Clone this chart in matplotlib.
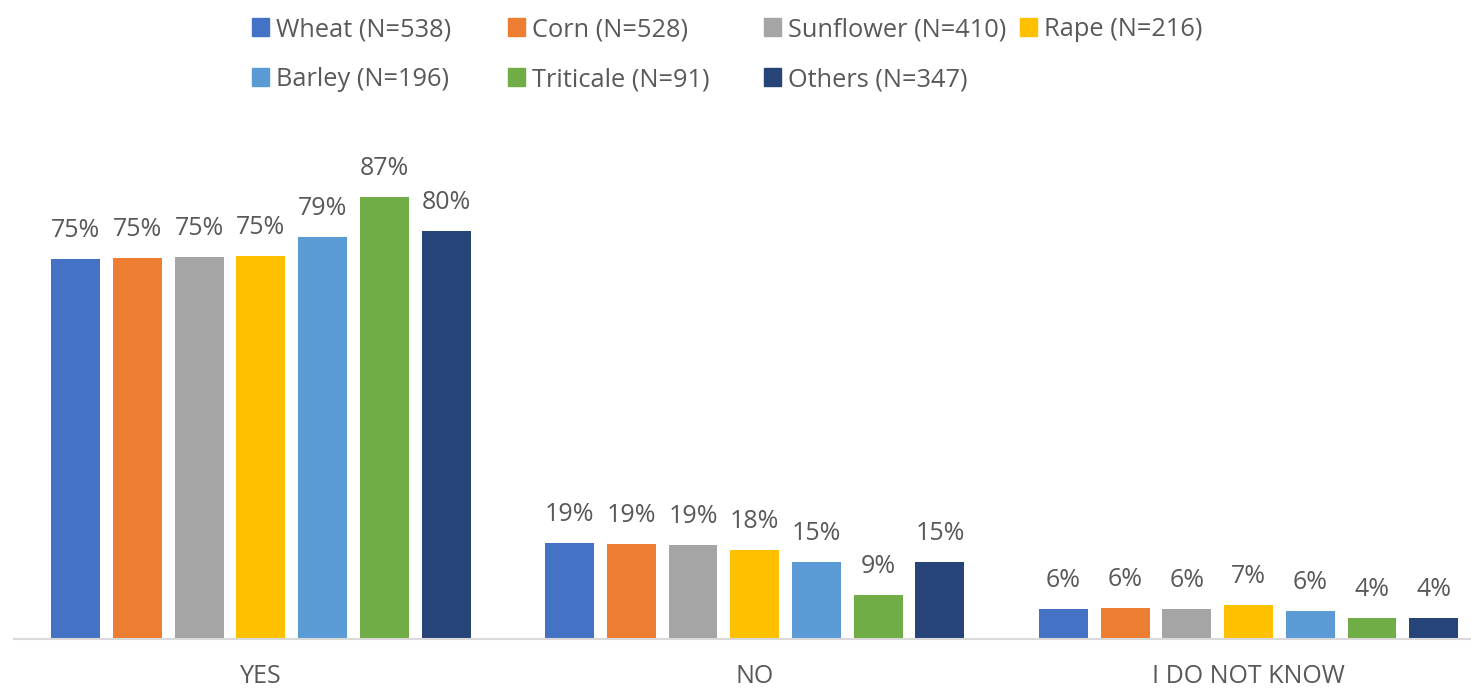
import numpy as np
import matplotlib
matplotlib.use("Agg")
import matplotlib.pyplot as plt
import matplotlib.patches as mpatches

plt.rcParams['font.family'] = ['Open Sans', 'DejaVu Sans']

# data (percent)
categories = ["YES", "NO", "I DO NOT KNOW"]
series = ["Wheat (N=538)", "Corn (N=528)", "Sunflower (N=410)", "Rape (N=216)",
          "Barley (N=196)", "Triticale (N=91)", "Others (N=347)"]
wheat = [74.9, 18.9, 5.9]
corn = [75.1, 18.7, 6.1]
sunflower = [75.3, 18.55, 5.9]
rape = [75.45, 17.6, 6.7]
barley = [79.3, 15.2, 5.55]
triticale = [87.2, 8.7, 4.1]
others = [80.4, 15.2, 4.1]
colors = ["#4472C4", "#ED7D31", "#A5A5A5", "#FFC000", "#5B9BD5", "#70AD47", "#264478"]

values = [wheat, corn, sunflower, rape, barley, triticale, others]
text_color = "#595959"
W, H = 1471, 688

fig = plt.figure(figsize=(W / 100, H / 100), dpi=100)
ax = fig.add_axes([14 / W, 1 - 639 / H, 1 - 14 / W, 507 / H])

x = np.arange(len(categories))
width = 0.099
step = 0.125
for i, (name, vals, c) in enumerate(zip(series, values, colors)):
    off = (i - 3) * step
    bars = ax.bar(x + off, vals, width, color=c, label=name)
    for b, v in zip(bars, vals):
        ax.text(b.get_x() + b.get_width() / 2, v + 3.2, f"{v:.0f}%",
                ha='center', va='bottom', fontsize=18, color=text_color)

ax.set_xlim(-0.5, (W - 260.5) / 493 - 0.005)
ax.set_ylim(0, 100)
ax.set_xticks(x)
ax.set_xticklabels(categories, fontsize=18, color=text_color)
ax.tick_params(axis='x', length=0, pad=18)
ax.set_yticks([])
for s in ["top", "right", "left"]:
    ax.spines[s].set_visible(False)
ax.spines["bottom"].set_color("#D9D9D9")
ax.spines["bottom"].set_linewidth(1.5)

# legend drawn by hand: 4 equal-width columns, two rows (Excel style)
col_w, row_h, sq = 256, 50, 17
for k, (name, c) in enumerate(zip(series, colors)):
    r, col = divmod(k, 4)
    mx = 252 + col * col_w
    my = 27 + r * row_h
    fig.patches.append(mpatches.Rectangle((mx / W, 1 - (my + sq / 2) / H), sq / W, sq / H,
                                          transform=fig.transFigure, color=c, figure=fig))
    fig.text((mx + sq + 7) / W, 1 - my / H, name, ha='left', va='center_baseline',
             fontsize=18.3, color=text_color)

plt.savefig("out.png", dpi=100)
plt.close()
